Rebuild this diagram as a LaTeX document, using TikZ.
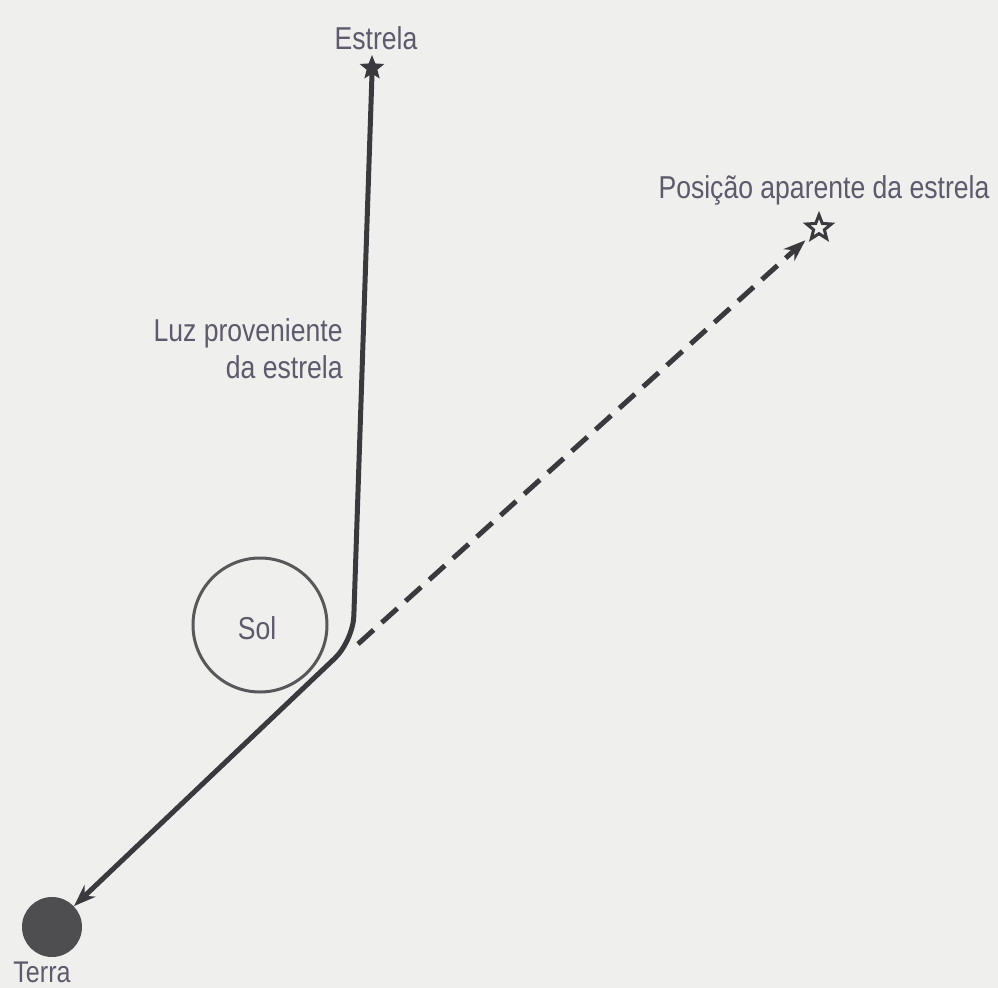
\documentclass[tikz,border=0pt]{standalone}
\usepackage{fontspec}
\setmainfont{Liberation Sans}[FakeStretch=0.84]
\usetikzlibrary{arrows.meta,shapes.geometric}
\definecolor{fundo}{HTML}{EFEFEE}
\definecolor{tinta}{HTML}{3A3A3E}
\definecolor{texto}{HTML}{5E596B}

\begin{document}
\begin{tikzpicture}[x=0.2mm,y=-0.2mm,
  rotulo/.style={text=texto,font=\fontsize{18}{21}\selectfont,inner sep=0pt},
  luz/.style={tinta,line width=1mm},
  astro/.style={star,star points=5,star point ratio=2.3,inner sep=0pt,minimum size=5.2mm}]
\fill[fundo] (0,0) rectangle (998,988);
\useasboundingbox (0,0) rectangle (998,988);
\node[astro,fill=tinta] (estrela) at (372,68) {};
\node[astro,draw=tinta,line width=0.6mm,fill=fundo] (aparente) at (819,228) {};
\node[circle,draw=tinta!85,line width=0.6mm,minimum size=26.8mm] (sol) at (260,625) {};
\node[circle,fill=tinta!90,minimum size=12mm] (terra) at (52,927) {};
\node[rotulo] at (376,38) {Estrela};
\node[rotulo] at (824,190) {Posição aparente da estrela};
\node[rotulo,align=right,anchor=east] at (343,349) {Luz proveniente\\da estrela};
\node[rotulo] at (257,628) {Sol};
\node[rotulo,font=\fontsize{17}{20}\selectfont,anchor=north] at (42,962) {Terra};
\coordinate (dobra) at (353,641);
\coordinate (desvio) at (358,644);
\draw[luz,rounded corners=5mm,-{Stealth[length=4.4mm,width=3.2mm]}] (estrela.south) -- (dobra) -- (terra);
\draw[luz,dash pattern=on 4.2mm off 2.2mm,shorten >=1.4mm,-{Stealth[length=4.4mm,width=3.2mm]}] (desvio) -- (aparente);
\end{tikzpicture}
\end{document}
